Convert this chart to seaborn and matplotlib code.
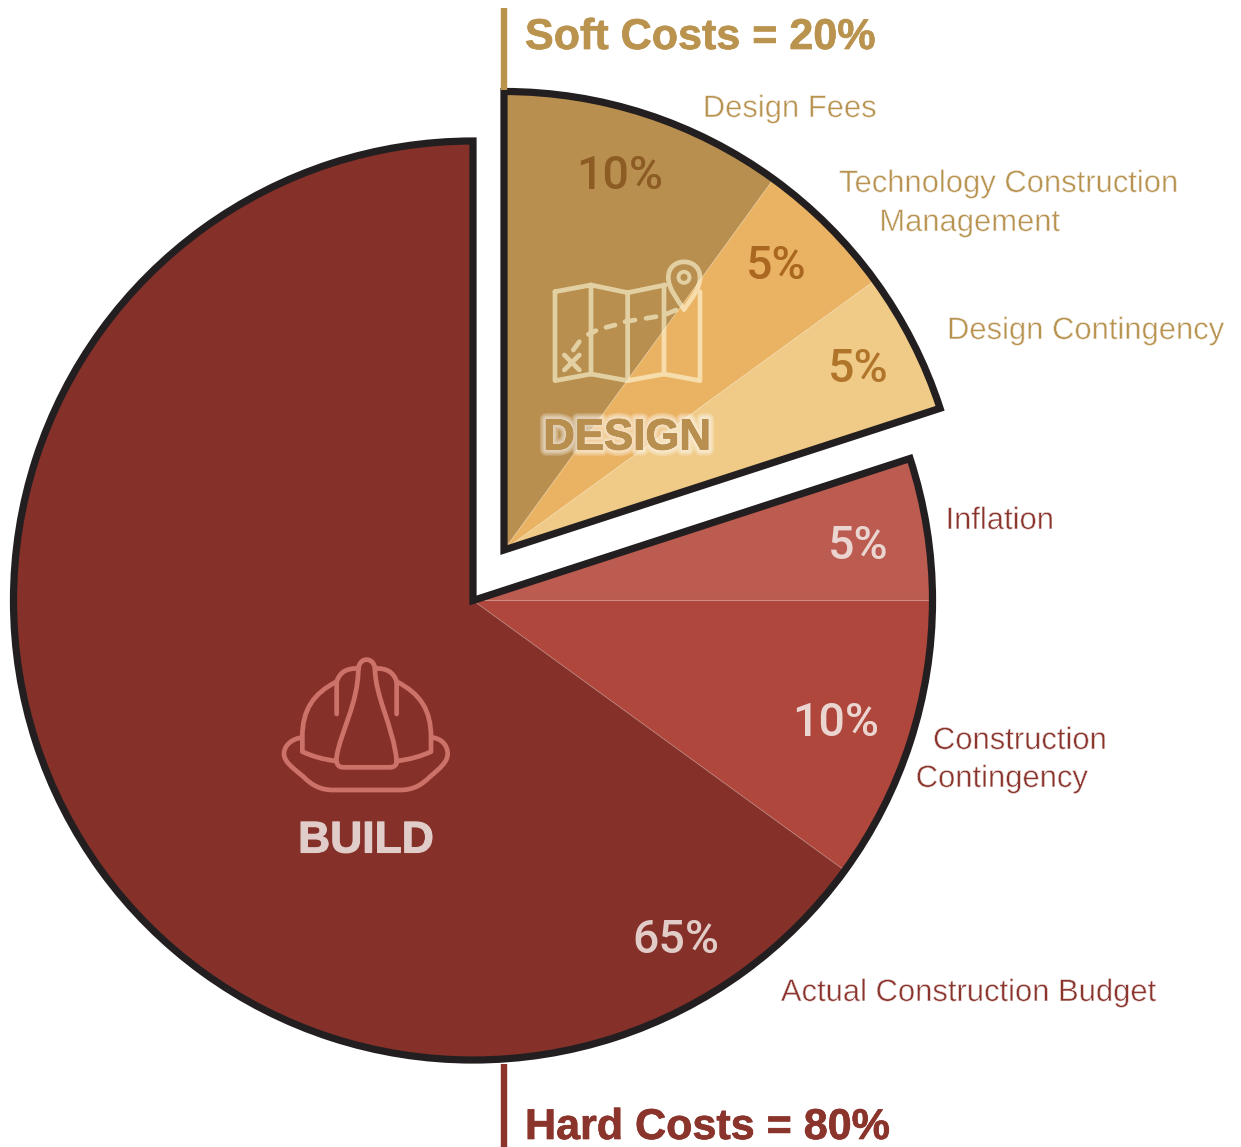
import matplotlib
matplotlib.use("Agg")
import matplotlib.pyplot as plt
import matplotlib.patheffects as pe
from matplotlib.path import Path
from matplotlib.patches import PathPatch, Circle
import seaborn as sns

sns.set_theme(style="white")

# ---- data ----
design_labels = ["Design Fees", "Technology Construction\nManagement", "Design Contingency"]
design_values = [10, 5, 5]
build_labels = ["Inflation", "Construction\nContingency", "Actual Construction Budget"]
build_values = [5, 10, 65]
soft_title = "Soft Costs = 20%"
hard_title = "Hard Costs = 80%"

# ---- styles ----
design_palette = sns.color_palette(["#B88F4F", "#EAB364", "#F0CB87"])
build_palette = sns.color_palette(["#BC5B50", "#AF473C", "#85312A"])
OUT = "#231F20"
GOLD = "#BA944F"
GOLD_L = "#B8924F"
RED = "#8A342C"
W, H = 1241, 1147
LIGHT = "Roboto"
BOLD = "Liberation Sans"
LABEL = "Liberation Sans"

fig = plt.figure(figsize=(W / 100, H / 100), dpi=100, facecolor="white")
ax = fig.add_axes([0, 0, 1, 1])


def Y(y):
    return H - y


def pie_group(values, palette, cx, cy, r, start):
    seps = dict(edgecolor=(1, 1, 1, 0.12), linewidth=0.8)
    ax.pie([v / 100 for v in values], normalize=False, colors=palette, startangle=start, counterclock=False,
           center=(cx, Y(cy)), radius=r, wedgeprops=seps)
    ax.pie([sum(values) / 100], normalize=False, startangle=start, counterclock=False,
           center=(cx, Y(cy)), radius=r,
           wedgeprops=dict(facecolor="none", edgecolor=OUT, linewidth=5.2, joinstyle="miter"))


pie_group(build_values, build_palette, 473, 600.5, 459.5, 18)
pie_group(design_values, design_palette, 504, 550, 458.5, 90)
ax.set_xlim(0, W)
ax.set_ylim(0, H)
ax.set_aspect("equal")
ax.axis("off")

# header bars
ax.plot([504, 504], [Y(8), Y(90)], color=GOLD, lw=4.6, solid_capstyle="butt")
ax.plot([504, 504], [Y(1064), Y(1147)], color=RED, lw=4.6, solid_capstyle="butt")

# headers
thick = [pe.withStroke(linewidth=0.5, foreground=GOLD)]
ax.text(525, Y(38), soft_title, color=GOLD, fontsize=31, family=BOLD, weight="bold", va="center", ha="left",
        path_effects=thick)
thick = [pe.withStroke(linewidth=0.5, foreground=RED)]
ax.text(525, Y(1128), hard_title, color=RED, fontsize=31, family=BOLD, weight="bold", va="center", ha="left",
        path_effects=thick)

# category labels (each line placed separately, as in the source); thinned to a light weight
thin = [pe.Normal(), pe.Stroke(linewidth=0.45, foreground="white")]
lab_pos = [[(790, 109)], [(1009, 184), (970, 223)], [(1086, 331)]]
for t, lines in zip(design_labels, lab_pos):
    for part, (x, y) in zip(t.split("\n"), lines):
        ax.text(x, Y(y), part, color=GOLD_L, fontsize=22.3, family=LABEL, ha="center", va="center", path_effects=thin)
lab_pos = [[(1000, 521)], [(1020, 741), (1002, 779)], [(969, 993)]]
for t, lines in zip(build_labels, lab_pos):
    for part, (x, y) in zip(t.split("\n"), lines):
        ax.text(x, Y(y), part, color=RED, fontsize=22.3, family=LABEL, ha="center", va="center", path_effects=thin)

# percent labels
pct_pos = [(620, 176), (776, 266), (858, 369)]
pct_cols = ["#8C5C24", "#A9671F", "#B0752A"]
for v, (x, y), c in zip(design_values, pct_pos, pct_cols):
    ax.text(x, Y(y), f"{v}%", color=c, fontsize=33.5, family=LIGHT, weight="medium", ha="center", va="center")
pct_pos = [(858, 546), (836, 723), (676, 940)]
pct_cols = ["#EBD5D1", "#EBD5D1", "#E2CCC8"]
for v, (x, y), c in zip(build_values, pct_pos, pct_cols):
    ax.text(x, Y(y), f"{v}%", color=c, fontsize=33.5, family=LIGHT, weight="medium", ha="center", va="center")

# group names
glow = [pe.withStroke(linewidth=w, foreground=(1, 1, 1, 0.2)) for w in (9, 7, 5, 3)]
ax.text(627, Y(438), "DESIGN", color="#B88F4F", fontsize=31.5, family=BOLD, weight="bold", ha="center", va="center",
        path_effects=glow + [pe.withStroke(linewidth=0.6, foreground="#B88F4F")])
ax.text(366, Y(841), "BUILD", color="#E0CCC8", fontsize=32, family=BOLD, weight="bold", ha="center", va="center",
        path_effects=[pe.withStroke(linewidth=0.8, foreground="#E0CCC8")])


def mk(ox, oy, segs):
    """segs: polylines and cubic curve pieces in crop pixels (3x zoom)."""
    verts, codes = [], []
    for seg in segs:
        first = True
        for item in seg:
            if len(item) == 2:
                verts.append((ox + item[0] / 3, Y(oy + item[1] / 3)))
                codes.append(Path.MOVETO if first else Path.LINETO)
                first = False
            else:  # cubic bezier: x1,y1,x2,y2,x3,y3
                for k in range(0, 6, 2):
                    verts.append((ox + item[k] / 3, Y(oy + item[k + 1] / 3)))
                    codes.append(Path.CURVE4)
    return Path(verts, codes)


# helmet
hel = "#CC7268"
helmet = mk(270, 640, [
    [(95, 293), (72, 295, 42, 312, 42, 342), (42, 365, 70, 385, 100, 410), (125, 435, 150, 450, 190, 450),
     (390, 450), (430, 450, 455, 435, 480, 410), (510, 385, 533, 365, 533, 342), (533, 312, 510, 295, 488, 293)],
    [(200, 222), (200, 125), (130, 160, 97, 210, 97, 290), (97, 335), (130, 350, 160, 358, 197, 363)],
    [(380, 222), (380, 125), (450, 160, 483, 210, 483, 290), (483, 335), (450, 350, 420, 358, 380, 363)],
    [(200, 125), (210, 95, 230, 85, 265, 85)],
    [(380, 125), (370, 95, 350, 85, 315, 85)],
    [(265, 85), (270, 50, 310, 50, 315, 85), (315, 170, 370, 260, 380, 362), (382, 375, 372, 382, 360, 382),
     (220, 382), (205, 382, 197, 372, 200, 350), (210, 280, 265, 190, 265, 85)],
])
ax.add_patch(PathPatch(helmet, fc="none", ec=hel, lw=3.4, capstyle="round", joinstyle="round"))

# map
lc = (1, 0.98, 0.86, 0.6)
mp = mk(520, 240, [
    [(105, 155), (213, 135), (323, 158), (435, 135)],
    [(105, 155), (105, 422), (213, 402), (323, 422), (432, 402), (540, 422), (540, 155)],
    [(213, 135), (213, 402)],
    [(323, 158), (323, 422)],
    [(432, 135), (432, 402)],
    [(160, 330), (178, 305)], [(205, 283), (228, 272)], [(258, 262), (285, 255)],
    [(315, 245), (345, 240)], [(378, 235), (408, 230)], [(440, 222), (468, 210)],
    [(133, 345), (178, 390)], [(178, 345), (133, 390)],
    [(492, 208), (470, 175, 445, 145, 445, 112), (445, 50, 540, 50, 540, 112), (540, 145, 515, 175, 492, 208)],
])
ax.add_patch(PathPatch(mp, fc="none", ec=lc, lw=3.4, capstyle="round", joinstyle="round"))
ax.add_patch(Circle((520 + 492 / 3, Y(240 + 112 / 3)), 5.5, fc="none", ec=lc, lw=2.8))

fig.savefig("out.png", dpi=100, facecolor="white")
